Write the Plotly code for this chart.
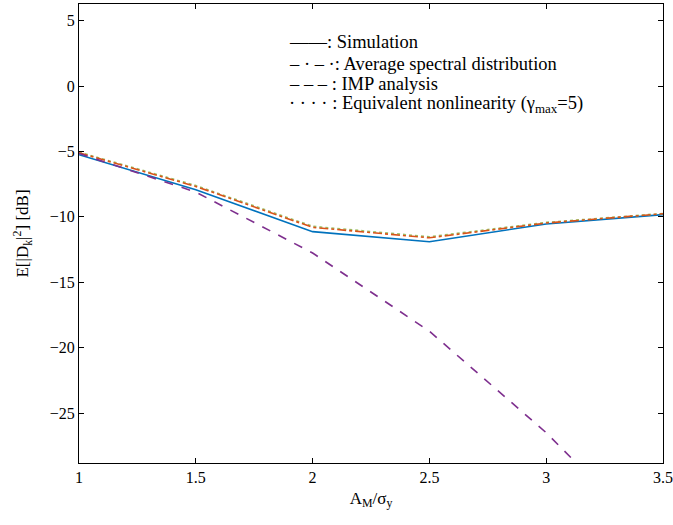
import plotly.graph_objects as go

x_vals = [1.0, 1.5, 2.0, 2.5, 3.0, 3.5]
simulation = [-5.25, -7.92, -11.13, -11.9, -10.54, -9.83]
avg_spectral = [-5.1, -7.67, -10.8, -11.6, -10.47, -9.76]
imp_analysis = [-5.15, -8.1, -12.76, -18.74, -26.5, -35.5]
equiv_nonlin = [-5.05, -7.6, -10.72, -11.52, -10.42, -9.74]

y_ticks = [-25, -20, -15, -10, -5, 0, 5]
x_ticks = [1, 1.5, 2, 2.5, 3, 3.5]
x_tick_text = ["1", "1.5", "2", "2.5", "3", "3.5"]

legend_lines = [
    "——: Simulation",
    "– · – ·: Average spectral distribution",
    "– – – : IMP analysis",
    "· · · · : Equivalent nonlinearity (γ<sub>max</sub>=5)",
]

FONT = "Liberation Serif"

fig = go.Figure()
fig.add_trace(go.Scatter(x=x_vals, y=simulation, mode="lines",
                         line=dict(color="#0072BD", width=1.6, dash="solid")))
fig.add_trace(go.Scatter(x=x_vals, y=equiv_nonlin, mode="lines",
                         line=dict(color="#9DC36A", width=1.6, dash="dot")))
fig.add_trace(go.Scatter(x=x_vals, y=avg_spectral, mode="lines",
                         line=dict(color="#D95319", width=1.6, dash="dashdot")))
fig.add_trace(go.Scatter(x=x_vals, y=imp_analysis, mode="lines",
                         line=dict(color="#7E2F8E", width=1.6, dash="dash")))

legend_y = [41.7, 64, 84, 104]
for txt, yp in zip(legend_lines, legend_y):
    fig.add_annotation(
        text=txt, xref="paper", yref="paper",
        x=(287 - 79) / (663 - 79), y=1 - (yp - 4) / (463 - 4),
        xanchor="left", yanchor="middle", showarrow=False,
        font=dict(family=FONT, size=18.5, color="black"),
    )

axis_common = dict(
    showline=True, linecolor="black", linewidth=1.2, mirror="ticks",
    ticks="inside", ticklen=5, tickcolor="black", tickwidth=1,
    showgrid=False, zeroline=False, automargin=False,
    tickfont=dict(family=FONT, size=16, color="black"),
)

fig.update_layout(
    width=673, height=525,
    margin=dict(l=79, r=10, t=4, b=62, autoexpand=False),
    paper_bgcolor="white", plot_bgcolor="white",
    showlegend=False,
    xaxis=dict(range=[1, 3.5], tickvals=x_ticks, ticktext=x_tick_text,
               title=dict(text="A<sub>M</sub>/σ<sub>y</sub>",
                          font=dict(family=FONT, size=17, color="black"),
                          standoff=6),
               **axis_common),
    yaxis=dict(range=[-28.82, 6.28], tickvals=y_ticks,
               title=dict(text="E[|D<sub>k</sub>|<sup>2</sup>] [dB]",
                          font=dict(family=FONT, size=17, color="black"),
                          standoff=16),
               **axis_common),
)

fig.write_html(
    "out.html",
    config={"displayModeBar": False},
    post_script="document.body.style.margin='0';document.body.style.padding='0';",
)
